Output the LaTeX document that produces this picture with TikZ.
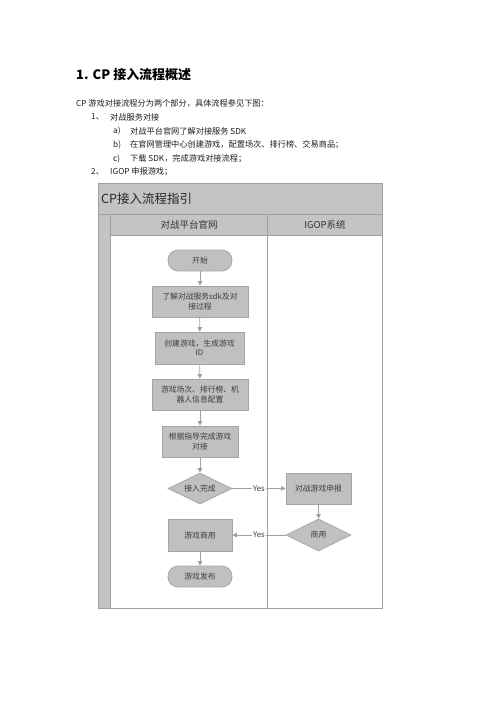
\documentclass[tikz,border=0pt]{standalone}
\usepackage{fontspec}
\setmainfont{Noto Sans CJK SC}
\usetikzlibrary{arrows.meta,shapes.geometric}
\definecolor{bandGray}{RGB}{196,196,196}
\definecolor{lineGray}{RGB}{160,160,160}
\definecolor{nodeFill}{RGB}{192,192,192}
\definecolor{nodeBorder}{RGB}{165,165,165}
\definecolor{nodeText}{RGB}{60,60,60}
\definecolor{arrowGray}{RGB}{160,160,160}
\definecolor{bodyText}{RGB}{30,30,30}
\begin{document}
\begin{tikzpicture}[x=1pt,y=-1pt,
  bodytxt/.style={anchor=west,inner sep=0pt,text=bodyText,font=\fontsize{8.2}{10}\selectfont},
  frameline/.style={draw=lineGray,line width=0.8pt},
  base/.style={draw=nodeBorder,fill=nodeFill,line width=0.7pt,text=nodeText,
     font=\fontsize{7.8}{9.3}\selectfont,align=center,inner sep=0pt},
  proc/.style={base,rectangle,minimum height=31pt},
  term/.style={base,rectangle,rounded corners=10pt,minimum width=64pt,minimum height=21pt},
  dec/.style={base,diamond,aspect=2.1,minimum width=65pt,minimum height=31pt},
  arr/.style={draw=arrowGray,line width=0.8pt,-{Triangle[width=4.5pt,length=4.5pt]}},
  yeslbl/.style={fill=white,inner sep=1pt,text=nodeText,font=\fontsize{7.8}{9}\selectfont}
]
\useasboundingbox (0,0) rectangle (496,702);
\fill[white] (0,0) rectangle (496,702);

% ---- text above the chart ----
\node[anchor=west,inner sep=0pt,font=\fontsize{13}{15}\selectfont\bfseries] (h1) at (76,75) {1.\hspace{4pt}CP 接入流程概述};
\node[bodytxt] (p0) at (76,103) {CP 游戏对接流程分为两个部分，具体流程参见下图：};
\node[bodytxt] (l1n) at (91,117) {1、};
\node[bodytxt] (l1) at (110,117) {对战服务对接};
\node[bodytxt] (lan) at (113,131) {a)};
\node[bodytxt] (la) at (130,131) {对战平台官网了解对接服务 SDK};
\node[bodytxt] (lbn) at (113,145) {b)};
\node[bodytxt] (lb) at (130,145) {在官网管理中心创建游戏，配置场次、排行榜、交易商品；};
\node[bodytxt] (lcn) at (113,159) {c)};
\node[bodytxt] (lc) at (130,159) {下载 SDK，完成游戏对接流程；};
\node[bodytxt] (l2n) at (91,172) {2、};
\node[bodytxt] (l2) at (110,172) {IGOP 申报游戏；};

% ---- swimlane frame ----
\fill[bandGray] (98,183) rectangle (382,235);
\fill[bandGray] (98,235) rectangle (110,608);
\draw[frameline] (98,183) rectangle (382,608);
\draw[frameline] (98,214) -- (382,214);
\draw[frameline] (110,235) -- (382,235);
\draw[frameline] (110,214) -- (110,608);
\draw[frameline] (267,214) -- (267,608);
\node[anchor=west,inner sep=0pt,text=black!85,font=\fontsize{12.5}{14}\selectfont] (title) at (101,198.5) {CP接入流程指引};
\node[inner sep=0pt,text=black!80,font=\fontsize{9.5}{11}\selectfont] (lane1) at (189,224.5) {对战平台官网};
\node[inner sep=0pt,text=black!80,font=\fontsize{9.5}{11}\selectfont] (lane2) at (325,224.5) {IGOP系统};

% ---- flow nodes ----
\node[term] (start) at (200,260.5) {开始};
\node[proc,minimum width=96pt] (n1) at (200,301.5) {了解对战服务sdk及对\\接过程};
\node[proc,minimum width=89pt,minimum height=32pt] (n2) at (199.5,348) {创建游戏，生成游戏\\ID};
\node[proc,minimum width=96pt] (n3) at (200,394.5) {游戏场次、排行榜、机\\器人信息配置};
\node[proc,minimum width=76pt] (n4) at (200,441.5) {根据指导完成游戏\\对接};
\node[dec,minimum width=64pt] (d1) at (200,488.5) {接入完成};
\node[proc,minimum width=65pt] (s1) at (318.5,488.5) {对战游戏申报};
\node[dec,minimum height=32pt] (d2) at (318.5,535) {商用};
\node[proc,minimum width=64pt,minimum height=32pt] (g1) at (200,535.5) {游戏商用};
\node[term] (finish) at (200,576.5) {游戏发布};

% ---- connectors ----
\draw[arr] (start) -- (n1);
\draw[arr] (n1) -- (n2);
\draw[arr] (n2) -- (n3);
\draw[arr] (n3) -- (n4);
\draw[arr] (n4) -- (d1);
\draw[arr] (d1.east) -- node[yeslbl] (y1) {Yes} (s1.west);
\draw[arr] (s1) -- (d2);
\draw[arr] (d2.west) -- node[yeslbl] (y2) {Yes} (g1.east |- d2.west);
\draw[arr] (g1) -- (finish);
\end{tikzpicture}
\end{document}
